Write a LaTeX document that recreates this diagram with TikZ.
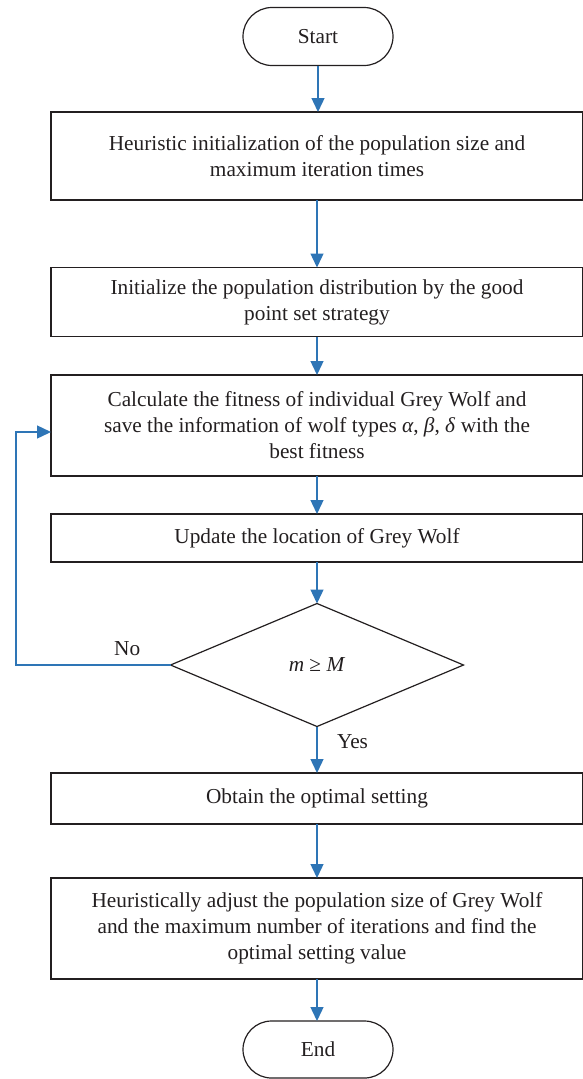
\documentclass[tikz,border=0pt]{standalone}
\usepackage{fontspec}
\setmainfont{Liberation Serif}
\usetikzlibrary{arrows.meta,shapes.misc,shapes.geometric}
\definecolor{flowblue}{RGB}{46,117,182}
\definecolor{boxline}{RGB}{35,31,32}
\begin{document}
\begin{tikzpicture}[x=1pt,y=-1pt,inner sep=0pt,outer sep=0pt,
font=\fontsize{21.3}{26}\selectfont,text=boxline,
procbox/.style={draw=boxline,rectangle,minimum width=532pt,align=center,line width=1.2pt},
terminal/.style={draw=boxline,rounded rectangle,minimum width=150pt,minimum height=58pt,line width=1.2pt},
decision/.style={draw=boxline,diamond,minimum width=293pt,minimum height=123pt,line width=1.2pt},
flow/.style={draw=flowblue,line width=1.4pt,-{Triangle[length=14pt,width=13pt]}}]
\useasboundingbox (0,0) rectangle (583,1079);
\draw (318,36.5) node[terminal] (start) {Start};
\draw (317,156) node[procbox,minimum height=88pt] (init) {Heuristic initialization of the population size and\\ maximum iteration times};
\draw (317,302) node[procbox,minimum height=69pt] (dist) {Initialize the population distribution by the good\\ point set strategy};
\draw (317,425.5) node[procbox,minimum height=101pt] (fit) {Calculate the fitness of individual Grey Wolf and\\ save the information of wolf types \textit{α}, \textit{β}, \textit{δ} with the\\ best fitness};
\draw (317,538) node[procbox,minimum height=48pt] (upd) {Update the location of Grey Wolf};
\draw (317,665) node[decision] (dec) {\textit{m} ≥ \textit{M}};
\draw (317,798.5) node[procbox,minimum height=51pt] (opt) {Obtain the optimal setting};
\draw (317,928.5) node[procbox,minimum height=101pt] (adj) {Heuristically adjust the population size of Grey Wolf\\ and the maximum number of iterations and find the\\ optimal setting value};
\draw (318,1049.5) node[terminal,minimum height=57pt] (fin) {End};
\coordinate (loop) at (16,665);
\coordinate (back) at (51,432);
\draw[flow] (start.south) -- (start.south |- init.north);
\draw[flow] (init) -- (dist);
\draw[flow] (dist) -- (fit);
\draw[flow] (fit) -- (upd);
\draw[flow] (upd) -- (dec);
\draw[flow] (dec.west) -- node[pos=0.28,above=9pt] (no) {No} (loop) |- (back);
\draw[flow] (dec) -- node[pos=0.33,right=20pt] (yes) {Yes} (opt);
\draw[flow] (opt) -- (adj);
\draw[flow] (adj) -- (adj.south |- fin.north);
\end{tikzpicture}
\end{document}
